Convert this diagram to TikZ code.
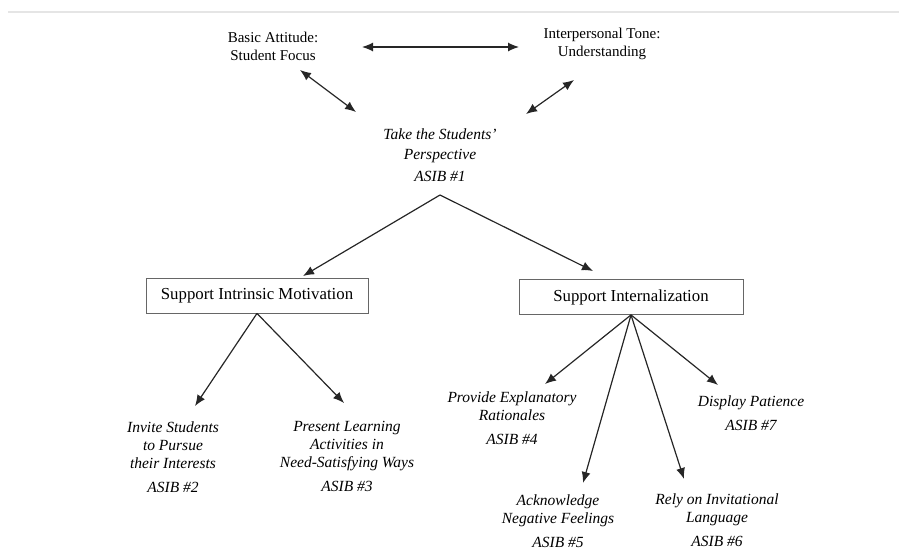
\documentclass[tikz,border=0pt]{standalone}
\usepackage{fontspec}
\setmainfont{Liberation Serif}
\usetikzlibrary{arrows.meta}
\begin{document}
\begin{tikzpicture}[x=1pt,y=-1pt,
  conn/.style={draw=black!85, line width=1.2pt, -{Latex[length=11pt,width=9pt]}},
  dconn/.style={draw=black!85, line width=1.2pt, {Latex[length=11pt,width=9pt]}-{Latex[length=11pt,width=9pt]}},
  toptext/.style={align=center, font=\fontsize{15}{18}\selectfont, inner sep=0pt},
  leaf/.style={align=center, font=\fontsize{15.5}{18}\selectfont\itshape, inner sep=0pt},
  box/.style={draw=black!60, line width=0.8pt, minimum height=35pt, font=\fontsize{16.8}{20}\selectfont, inner sep=0pt}
]
\useasboundingbox (0,0) rectangle (899,550);
\draw[black!10, line width=2pt] (8,12) -- (899,12);

% text nodes
\node[toptext] (basic) at (273,46) {Basic Attitude:\\Student Focus};
\node[toptext] (tone) at (602,43.5) {Interpersonal Tone:\\Understanding};
\node[leaf, font=\fontsize{15.5}{20}\selectfont\itshape] (take) at (440,155) {Take the Students’\\Perspective\\[2pt]ASIB \#1};
\node[box, minimum width=222pt] (sim) at (257,295.5) {Support Intrinsic Motivation};
\node[box, minimum width=224pt] (sint) at (631,297) {Support Internalization};
\node[leaf] (invite) at (173,457) {Invite Students\\to Pursue\\their Interests\\[6pt]ASIB \#2};
\node[leaf] (present) at (347,456) {Present Learning\\Activities in\\Need-Satisfying Ways\\[6pt]ASIB \#3};
\node[leaf] (provide) at (512,418.5) {Provide Explanatory\\Rationales\\[6pt]ASIB \#4};
\node[leaf] (patience) at (751,413.5) {Display Patience\\[6pt]ASIB \#7};
\node[leaf] (ackn) at (558,521) {Acknowledge\\Negative Feelings\\[6pt]ASIB \#5};
\node[leaf] (rely) at (717,520) {Rely on Invitational\\Language\\[6pt]ASIB \#6};

% connector end points
\coordinate (h1) at (362,47);
\coordinate (h2) at (519,47);
\coordinate (l1) at (300,70);
\coordinate (l2) at (356,112);
\coordinate (r1) at (574,80);
\coordinate (r2) at (526,114);
\coordinate (apex) at (440,195);
\coordinate (tsim) at (303,276);
\coordinate (tsint) at (593,271);
\coordinate (tinv) at (195,406);
\coordinate (tpres) at (344,403);
\coordinate (tprov) at (545,384);
\coordinate (tack) at (583,483);
\coordinate (trely) at (684,479);
\coordinate (tpat) at (718,385);

% connectors
\draw[dconn] (h1) -- (h2);
\draw[dconn] (l1) -- (l2);
\draw[dconn] (r1) -- (r2);
\draw[conn] (apex) -- (tsim);
\draw[conn] (apex) -- (tsint);
\draw[conn] (sim.south) -- (tinv);
\draw[conn] (sim.south) -- (tpres);
\draw[conn] (sint.south) -- (tprov);
\draw[conn] (sint.south) -- (tack);
\draw[conn] (sint.south) -- (trely);
\draw[conn] (sint.south) -- (tpat);
\end{tikzpicture}
\end{document}
